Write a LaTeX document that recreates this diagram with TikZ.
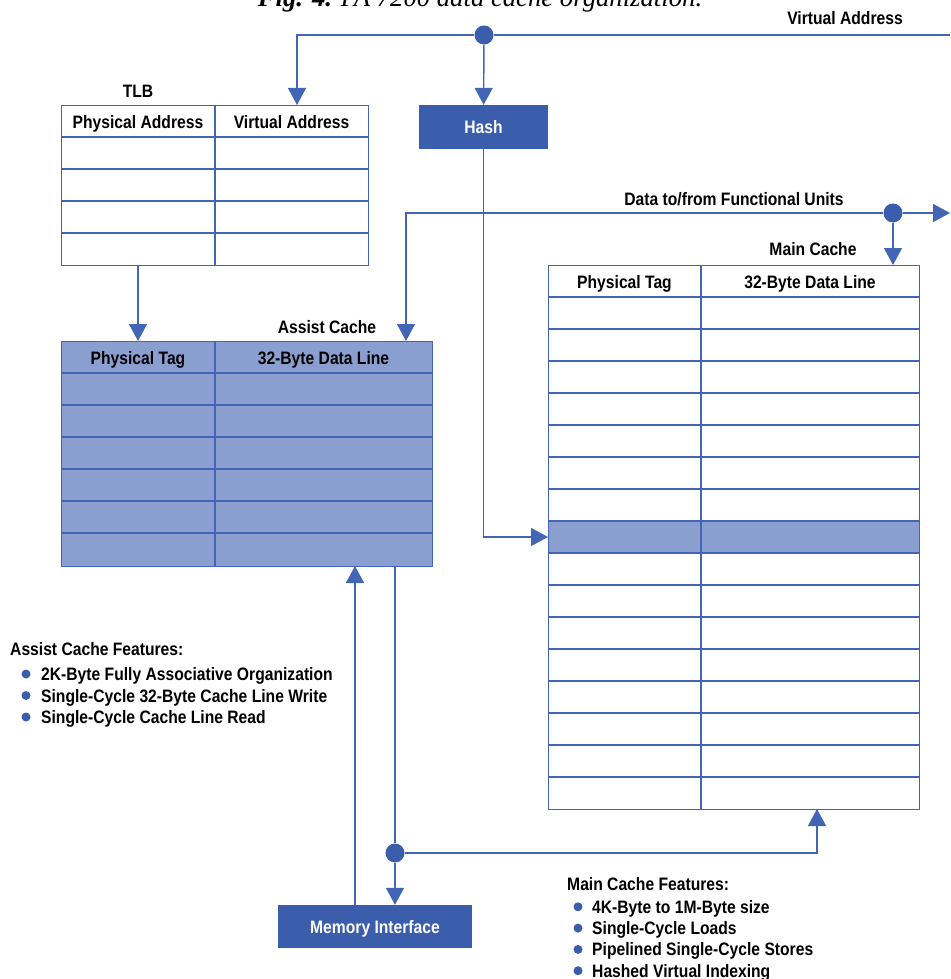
\documentclass[tikz,border=0pt]{standalone}
\usepackage{fontspec}
\setmainfont{Liberation Sans}[FakeStretch=0.87]
\newfontfamily\titlefont{Liberation Serif}
\usetikzlibrary{positioning,arrows.meta}
\definecolor{hpblue}{HTML}{3A5DAC}
\definecolor{hpline}{HTML}{4266B5}
\definecolor{hplight}{HTML}{8A9ED0}
\tikzset{
  lbl/.style={font=\bfseries\fontsize{18}{21}\selectfont,text height=13pt,text depth=0pt,inner sep=0pt},
  wire/.style={hpline,line width=1.4pt},
  feed/.style={wire,-{Triangle[width=18pt,length=17pt]}},
  joint/.style={circle,fill=hpblue,inner sep=0pt,minimum size=19pt},
  bullet/.style={circle,fill=hpblue,inner sep=0pt,minimum size=9pt},
  unit/.style={lbl,fill=hpblue,text=white},
  tabframe/.style={draw=hpline,line width=1.4pt,anchor=north west,inner sep=0pt},
}
\begin{document}
\begin{tikzpicture}[x=1pt,y=-1pt]
\useasboundingbox (0,0) rectangle (950,979);
% caption, cut by the top edge
\node[anchor=base,font=\titlefont\itshape\fontsize{26.7}{30}\selectfont] (title) at (480,7) {\textbf{Fig. 4.} PA 7200 data cache organization.};

% TLB
\node[lbl] (tlbname) at (138,91) {TLB};
\node[tabframe,minimum width=307pt,minimum height=160pt] (tlb) at (61,105) {};
\foreach \r in {1,...,4} \draw[wire] (61,105+32*\r) -- (368,105+32*\r);
\draw[wire] (215,105) -- (215,265);
\node[lbl] (tlbpa) at (138,122) {Physical Address};
\node[lbl] (tlbva) at (291.5,122) {Virtual Address};

% assist cache
\node[lbl] (asname) at (327,327) {Assist Cache};
\node[tabframe,fill=hplight,minimum width=371pt,minimum height=225pt] (assist) at (61,341) {};
\foreach \r in {1,...,6} \draw[wire] (61,341+32*\r) -- (432,341+32*\r);
\draw[wire] (215,341) -- (215,566);
\node[lbl] (aspt) at (138,358) {Physical Tag};
\node[lbl] (asdl) at (323.5,358) {32-Byte Data Line};

% main cache
\node[lbl] (mcname) at (813,249) {Main Cache};
\fill[hplight] (548,521) rectangle (919,553);
\node[tabframe,minimum width=371pt,minimum height=544pt] (main) at (548,265) {};
\foreach \r in {1,...,16} \draw[wire] (548,265+32*\r) -- (919,265+32*\r);
\draw[wire] (701,265) -- (701,809);
\node[lbl] (mcpt) at (624.5,282) {Physical Tag};
\node[lbl] (mcdl) at (810,282) {32-Byte Data Line};

% hash and memory
\node[unit,minimum width=129pt,minimum height=44pt] (hash) at (483.5,127) {Hash};
\node[unit,minimum width=194pt,minimum height=43pt] (mem) at (375,926.5) {Memory Interface};

% virtual address
\node[lbl] (vaname) at (845,18) {Virtual Address};
\node[joint] (vdot) at (484,35) {};
\coordinate (vin) at (950,35);
\coordinate (tlbin) at (297,105);
\coordinate (hitrow) at (548,537);
\draw[wire] (vin) -- (vdot);
\draw[feed] (vdot) -| (tlbin);
\draw[feed] (vdot) -- (hash);
\draw[feed] (hash) |- (hitrow);

% data to/from functional units
\node[lbl] (dname) at (734,199) {Data to/from Functional Units};
\node[joint] (ddot) at (893,213) {};
\coordinate (dout) at (950,213);
\coordinate (asin) at (406,341);
\coordinate (mcin) at (893,265);
\draw[feed] (ddot) -- (dout);
\draw[feed] (ddot) -| (asin);
\draw[feed] (ddot) -- (mcin);
\draw[feed] (tlb.south -| tlbpa) -- (assist.north -| tlbpa);

% memory traffic
\coordinate (asout) at (395,566);
\coordinate (asret) at (355,566);
\coordinate (mcret) at (817,809);
\node[joint] (mdot) at (395,853) {};
\draw[wire] (asout) -- (mdot);
\draw[feed] (mdot) -- (mem.north -| mdot);
\draw[feed] (mem.north -| asret) -- (asret);
\draw[feed] (mdot) -| (mcret);

% feature lists
\node[lbl,anchor=west] (afhead) at (10,649) {Assist Cache Features:};
\foreach \t [count=\i] in {2K-Byte Fully Associative Organization,Single-Cycle 32-Byte Cache Line Write,Single-Cycle Cache Line Read}{
  \node[bullet] (afb\i) at (26,652.5+21.5*\i) {};
  \node[lbl,anchor=west] (af\i) at (41,652.5+21.5*\i) {\t};
}
\node[lbl,anchor=west] (mfhead) at (567,884) {Main Cache Features:};
\foreach \t [count=\i] in {4K-Byte to 1M-Byte size,Single-Cycle Loads,Pipelined Single-Cycle Stores,Hashed Virtual Indexing}{
  \node[bullet] (mfb\i) at (578,885.5+21.3*\i) {};
  \node[lbl,anchor=west] (mf\i) at (592,885.5+21.3*\i) {\t};
}
\end{tikzpicture}
\end{document}
